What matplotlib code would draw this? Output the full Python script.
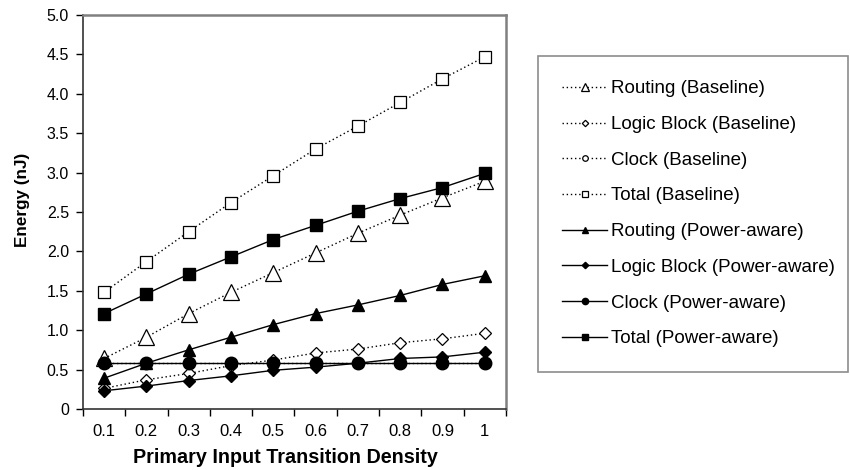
import numpy as np
import matplotlib
matplotlib.use("Agg")
import matplotlib.pyplot as plt

# transition density categories
density = ["0.1", "0.2", "0.3", "0.4", "0.5", "0.6", "0.7", "0.8", "0.9", "1"]

# energy values (nJ)
routing_base = [0.64, 0.91, 1.21, 1.48, 1.73, 1.98, 2.23, 2.46, 2.68, 2.89]
logic_base = [0.26, 0.37, 0.45, 0.55, 0.62, 0.71, 0.76, 0.84, 0.89, 0.96]
clock_base = [0.58, 0.58, 0.58, 0.58, 0.58, 0.58, 0.58, 0.58, 0.58, 0.58]
total_base = [1.48, 1.87, 2.25, 2.62, 2.96, 3.30, 3.59, 3.89, 4.19, 4.47]

routing_pa = [0.39, 0.58, 0.75, 0.91, 1.07, 1.21, 1.32, 1.44, 1.58, 1.69]
logic_pa = [0.23, 0.29, 0.36, 0.42, 0.49, 0.53, 0.58, 0.64, 0.66, 0.72]
clock_pa = [0.58, 0.58, 0.58, 0.58, 0.58, 0.58, 0.58, 0.58, 0.58, 0.58]
total_pa = [1.21, 1.46, 1.71, 1.93, 2.15, 2.33, 2.51, 2.67, 2.81, 2.99]

plt.rcParams["font.family"] = ["Liberation Sans", "DejaVu Sans"]

fig = plt.figure(figsize=(8.5, 4.7), dpi=100)
ax = fig.add_axes([0.0976, 0.130, 0.4976, 0.838])

x = np.arange(len(density))

# baseline: dotted lines, open markers
base_style = dict(color="black", linestyle=(0, (1, 2)), linewidth=1.0,
                  markerfacecolor="white", markeredgecolor="black", markeredgewidth=0.9)
ax.plot(x, routing_base, marker="^", markersize=11, label="Routing (Baseline)", **base_style)
ax.plot(x, logic_base, marker="D", markersize=6.5, label="Logic Block (Baseline)", **base_style)
ax.plot(x, clock_base, marker="o", markersize=8, label="Clock (Baseline)", **base_style)
ax.plot(x, total_base, marker="s", markersize=9, label="Total (Baseline)", **base_style)

# power-aware: solid lines, filled markers
pa_style = dict(color="black", linestyle="-", linewidth=1.0,
                markerfacecolor="black", markeredgecolor="black")
ax.plot(x, routing_pa, marker="^", markersize=9, label="Routing (Power-aware)", **pa_style)
ax.plot(x, logic_pa, marker="D", markersize=6.5, label="Logic Block (Power-aware)", **pa_style)
ax.plot(x, clock_pa, marker="o", markersize=9, label="Clock (Power-aware)", **pa_style)
ax.plot(x, total_pa, marker="s", markersize=9, label="Total (Power-aware)", **pa_style)

ax.set_xlim(-0.5, len(density) - 0.5)
ax.set_ylim(0, 5.0)

# category axis: ticks between categories, labels centred
ax.set_xticks(np.arange(len(density) + 1) - 0.5)
ax.set_xticklabels([])
ax.set_xticks(x, minor=True)
ax.set_xticklabels(density, minor=True)
ax.tick_params(axis="x", which="major", direction="out", length=5, width=1)
ax.tick_params(axis="x", which="minor", length=0, pad=11, labelsize=12)

yt = np.arange(0, 5.01, 0.5)
ax.set_yticks(yt)
ax.set_yticklabels(["0"] + [f"{v:.1f}" for v in yt[1:]])
ax.tick_params(axis="y", direction="out", length=5, width=1, labelsize=11.5, pad=5)

ax.set_xlabel("Primary Input Transition Density", fontsize=14.2, fontweight="bold")
ax.xaxis.set_label_coords(0.478, -0.1)
ax.set_ylabel("Energy (nJ)", fontsize=12.3, fontweight="bold")
ax.yaxis.set_label_coords(-0.125, 0.53)

for side in ["left", "bottom"]:
    ax.spines[side].set_color("#333333")
    ax.spines[side].set_linewidth(1.2)
for side in ["top", "right"]:
    ax.spines[side].set_color("#808080")
    ax.spines[side].set_linewidth(1.8)

leg = fig.legend(loc="upper left", bbox_to_anchor=(0.633, 0.881, 0.365, 0.0), mode="expand",
                 frameon=True, fancybox=False, edgecolor="#707070", fontsize=13.5,
                 markerscale=0.5, handlelength=2.4, handletextpad=0.2, labelspacing=0.99,
                 borderpad=1.3, borderaxespad=0)
leg.get_frame().set_linewidth(1.2)

fig.savefig("out.png", dpi=100)
